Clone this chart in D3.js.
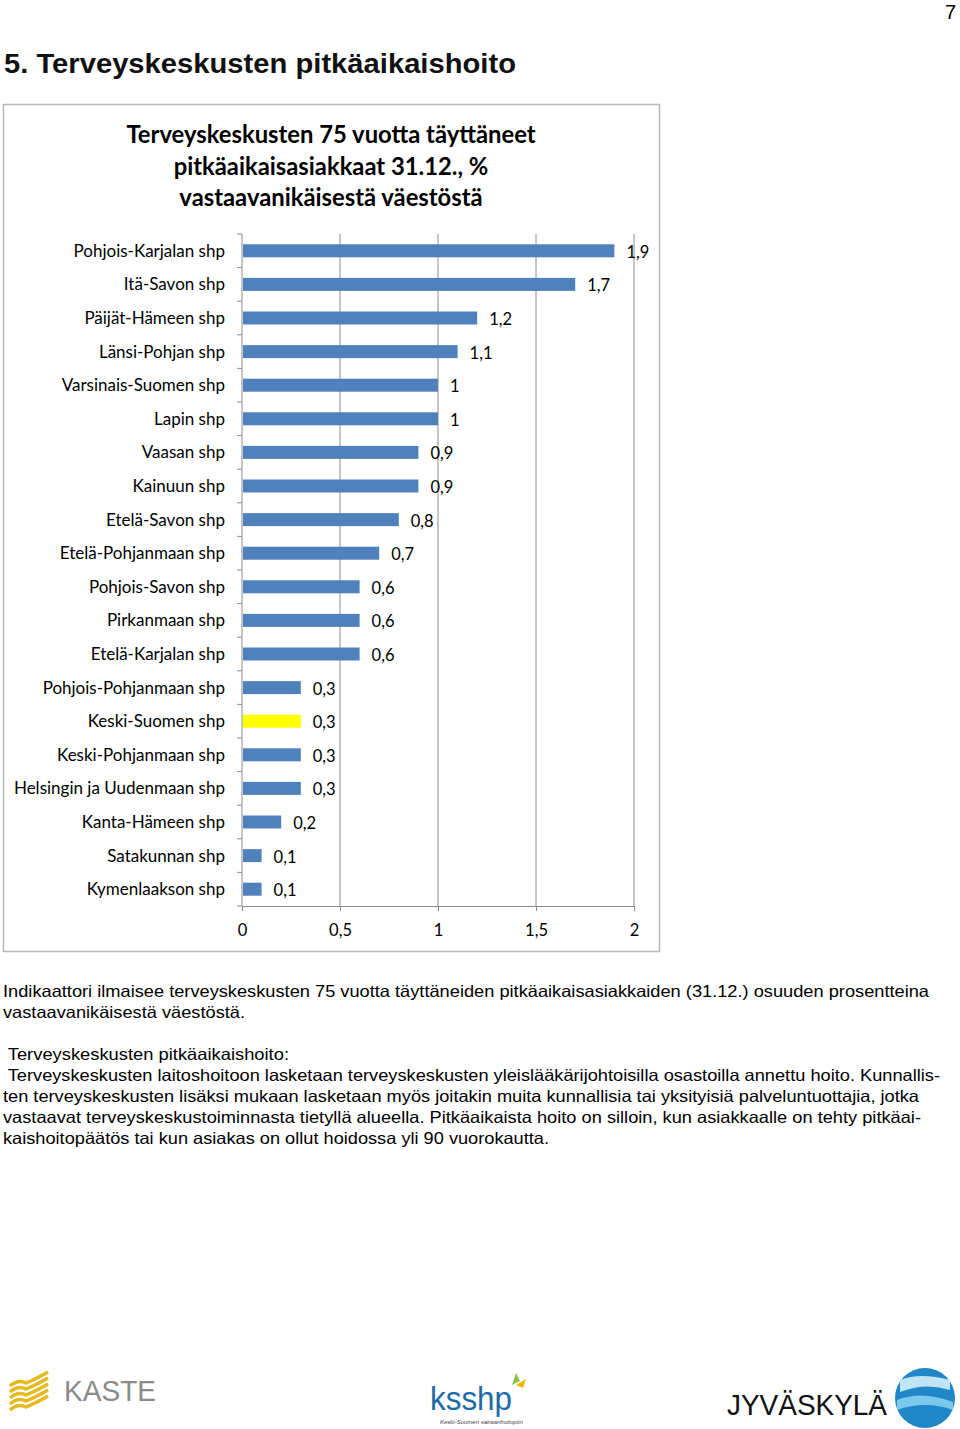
<!DOCTYPE html>
<html><head><meta charset="utf-8">
<script src="https://cdn.jsdelivr.net/npm/d3@7"></script>
<style>body{margin:0;background:#fff}svg{display:block}</style>
</head><body>
<svg id="c" width="960" height="1429"></svg>
<script>
const categories = ["Pohjois-Karjalan shp","Itä-Savon shp","Päijät-Hämeen shp","Länsi-Pohjan shp","Varsinais-Suomen shp","Lapin shp","Vaasan shp","Kainuun shp","Etelä-Savon shp","Etelä-Pohjanmaan shp","Pohjois-Savon shp","Pirkanmaan shp","Etelä-Karjalan shp","Pohjois-Pohjanmaan shp","Keski-Suomen shp","Keski-Pohjanmaan shp","Helsingin ja Uudenmaan shp","Kanta-Hämeen shp","Satakunnan shp","Kymenlaakson shp"];
const values = [1.9,1.7,1.2,1.1,1,1,0.9,0.9,0.8,0.7,0.6,0.6,0.6,0.3,0.3,0.3,0.3,0.2,0.1,0.1];
const highlight = ["Keski-Suomen shp"];
const xTicks = [0,0.5,1,1.5,2];
const chartTitle = ["Terveyskeskusten 75 vuotta täyttäneet","pitkäaikaisasiakkaat 31.12., %","vastaavanikäisestä väestöstä"];
const bodyText = [
 "Indikaattori ilmaisee terveyskeskusten 75 vuotta täyttäneiden pitkäaikaisasiakkaiden (31.12.) osuuden prosentteina",
 "vastaavanikäisestä väestöstä.",
 "",
 " Terveyskeskusten pitkäaikaishoito:",
 " Terveyskeskusten laitoshoitoon lasketaan terveyskeskusten yleislääkärijohtoisilla osastoilla annettu hoito. Kunnallis-",
 "ten terveyskeskusten lisäksi mukaan lasketaan myös joitakin muita kunnallisia tai yksityisiä palveluntuottajia, jotka",
 "vastaavat terveyskeskustoiminnasta tietyllä alueella. Pitkäaikaista hoito on silloin, kun asiakkaalle on tehty pitkäai-",
 "kaishoitopäätös tai kun asiakas on ollut hoidossa yli 90 vuorokautta."
];
const bodyWidths = [926,242,0,286,937,916,918,546];

const svg = d3.select("#c");
const fmt = v => String(v).replace(".", ",");
const CAL = "Lato, 'Open Sans', sans-serif";
const ARI = "'Liberation Sans', Arial, sans-serif";

// page number and heading
svg.append("text").attr("x",956).attr("y",19).attr("text-anchor","end").attr("font-family",ARI).attr("font-size",20).text("7");
svg.append("text").attr("x",4).attr("y",73).attr("font-family",ARI).attr("font-weight","bold").attr("font-size",28)
  .attr("fill","#111").attr("textLength",512).attr("lengthAdjust","spacingAndGlyphs").text("5. Terveyskeskusten pitkäaikaishoito");

// chart frame
svg.append("rect").attr("x",3.5).attr("y",104.5).attr("width",656).attr("height",847).attr("fill","#fff").attr("stroke","#b8b8b8").attr("stroke-width",1.5);

// chart title
svg.append("g").selectAll("text").data(chartTitle).join("text")
  .attr("x",331).attr("y",(d,i)=>143+i*31.5).attr("text-anchor","middle")
  .attr("font-family",CAL).attr("font-weight","bold").attr("font-size",23.8).attr("fill","#000").text(d=>d);

const x = d3.scaleLinear().domain([0,2]).range([242,634]);
const yStep = d3.scaleBand().domain(categories).range([234,906]);

// gridlines
svg.append("g").selectAll("line").data(xTicks.slice(1)).join("line")
  .attr("x1",d=>x(d)).attr("x2",d=>x(d)).attr("y1",234).attr("y2",906).attr("stroke","#8c8c8c").attr("stroke-width",1);

// bars
svg.append("g").selectAll("rect").data(categories).join("rect")
  .attr("x",x(0)+1).attr("y",d=>yStep(d)+yStep.bandwidth()/2-6.5).attr("height",13)
  .attr("width",(d,i)=>x(values[i])-x(0)-1)
  .attr("fill",d=>highlight.includes(d)?"#FFFF00":"#4F81BD");

// value labels
svg.append("g").selectAll("text").data(categories).join("text")
  .attr("x",(d,i)=>x(values[i])+12).attr("y",d=>yStep(d)+yStep.bandwidth()/2+7)
  .attr("font-family",CAL).attr("font-size",16.5).attr("fill","#000").text((d,i)=>fmt(values[i]));

// y axis
svg.append("line").attr("x1",242).attr("x2",242).attr("y1",234).attr("y2",906).attr("stroke","#8c8c8c");
svg.append("g").selectAll("line").data(d3.range(categories.length+1)).join("line")
  .attr("x1",237).attr("x2",242).attr("y1",i=>234+i*yStep.step()).attr("y2",i=>234+i*yStep.step()).attr("stroke","#8c8c8c");
svg.append("g").selectAll("text").data(categories).join("text")
  .attr("x",225).attr("y",d=>yStep(d)+yStep.bandwidth()/2+6)
  .attr("text-anchor","end")
  .attr("font-family",CAL).attr("font-size",17).attr("fill","#000").text(d=>d);

// x axis
const xa = svg.append("g").attr("transform","translate(0,906)")
  .call(d3.axisBottom(x).tickValues(xTicks).tickFormat(fmt).tickSize(5).tickPadding(13));
xa.select(".domain").attr("stroke","#8c8c8c");
xa.selectAll(".tick line").attr("stroke","#8c8c8c");
xa.selectAll("text").attr("font-family",CAL).attr("font-size",16.5).attr("fill","#000");

// body text
svg.append("g").selectAll("text").data(bodyText.map((t,i)=>({t,i})).filter(d=>d.t!=="")).join("text")
  .attr("x",3).attr("y",d=>997+d.i*21)
  .attr("font-family",ARI).attr("font-size",16.5).attr("fill","#000")
  .attr("xml:space","preserve")
  .each(function(d){ if(bodyWidths[d.i]) d3.select(this).attr("textLength",bodyWidths[d.i]).attr("lengthAdjust","spacingAndGlyphs"); })
  .text(d=>d.t);

// logos
const lg = svg.append("g");
// KASTE
[0,1,2,3,4].forEach(i=>{
  lg.append("path").attr("d",`M10 ${1386+i*6} q8 -7 16 -3 q10 -4 22 -11`).attr("fill","none").attr("stroke","#E8B820").attr("stroke-width",3.5);
});
lg.append("text").attr("x",64).attr("y",1401).attr("font-family",ARI).attr("font-size",30).attr("fill","#8a8a8a").attr("textLength",92).attr("lengthAdjust","spacingAndGlyphs").text("KASTE");
// ksshp
lg.append("text").attr("x",430).attr("y",1410).attr("font-family",ARI).attr("font-size",34).attr("fill","#1d6aa8").attr("textLength",82).attr("lengthAdjust","spacingAndGlyphs").text("ksshp");
lg.append("path").attr("d","M512 1385 l4 -12 l4 8 z").attr("fill","#8bc34a");
lg.append("path").attr("d","M516 1385 l10 -6 l-3 9 z").attr("fill","#f0b400");
lg.append("text").attr("x",440).attr("y",1424).attr("font-family",ARI).attr("font-style","italic").attr("font-size",6).attr("fill","#444").text("Keski-Suomen sairaanhoitopiiri");
// JYVÄSKYLÄ
lg.append("text").attr("x",727).attr("y",1415).attr("font-family",ARI).attr("font-size",30).attr("fill","#111").attr("textLength",160).attr("lengthAdjust","spacingAndGlyphs").text("JYVÄSKYLÄ");
const cg = lg.append("g");
cg.append("circle").attr("cx",925).attr("cy",1398).attr("r",30).attr("fill","#1f86c8");
cg.append("path").attr("d","M900 1380 q20 -8 50 0 l0 10 q-25 -8 -50 2 z").attr("fill","#bfe4f5");
cg.append("path").attr("d","M897 1400 q25 -10 56 2 l0 8 q-28 -10 -56 0 z").attr("fill","#7cc7ec");
</script>
</body></html>
